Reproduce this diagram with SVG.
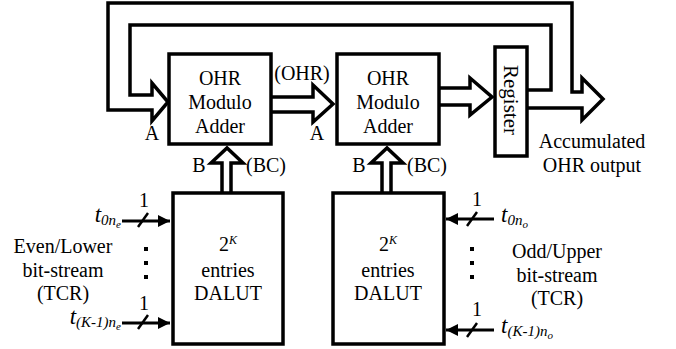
<svg xmlns="http://www.w3.org/2000/svg" width="676" height="349" viewBox="0 0 676 349">
<defs>
<marker id="ah" viewBox="0 0 10 10" refX="10" refY="5" markerWidth="4" markerHeight="4" markerUnits="strokeWidth" orient="auto">
<path d="M0,0 L10,5 L0,10 Z" fill="#000"/>
</marker>
</defs>
<rect width="676" height="349" fill="#fff"/>
<g id="connectors" fill="none" stroke="#000" stroke-width="3.5" stroke-linejoin="miter">
<path d="M527,90 H551 V25 H130 V95 H152 V83 L168,102 L152,121 V110 H108 V3 H572 V92 H582 V78 L603,99 L582,120 V108 H527"/>
<path d="M271,97 H313 V85 L333,104 L313,122 V112 H271"/>
<path d="M439,88 H470 V78 L492,97 L470,115 V105 H439"/>
<path d="M222,193 V163 H211 L227,148 L243,163 H231 V193"/>
<path d="M382,193 V163 H371 L387,148 L403,163 H391 V193"/>
<g stroke-width="3">
<line x1="122" y1="221" x2="170" y2="221" marker-end="url(#ah)"/>
<line x1="122" y1="323" x2="170" y2="323" marker-end="url(#ah)"/>
<line x1="494" y1="219" x2="446" y2="219" marker-end="url(#ah)"/>
<line x1="494" y1="330" x2="446" y2="330" marker-end="url(#ah)"/>
</g>
<g stroke-width="2.5">
<line x1="138" y1="227" x2="148" y2="213"/>
<line x1="138" y1="329" x2="148" y2="315"/>
<line x1="467" y1="226" x2="477" y2="212"/>
<line x1="467" y1="337" x2="477" y2="323"/>
</g>
</g>
<g id="adder1">
<rect x="169" y="54" width="102" height="90" fill="#fff" stroke="#000" stroke-width="3.5"/>
<g font-family="Liberation Serif" font-size="20" text-anchor="middle">
<text x="220" y="85">OHR</text>
<text x="220" y="109">Modulo</text>
<text x="220" y="133">Adder</text>
</g>
</g>
<g id="adder2">
<rect x="337" y="54" width="102" height="90" fill="#fff" stroke="#000" stroke-width="3.5"/>
<g font-family="Liberation Serif" font-size="20" text-anchor="middle">
<text x="388" y="85">OHR</text>
<text x="388" y="109">Modulo</text>
<text x="388" y="133">Adder</text>
</g>
</g>
<g id="register">
<rect x="495" y="47" width="32" height="109" fill="#fff" stroke="#000" stroke-width="3.5"/>
<text font-family="Liberation Serif" font-size="21" text-anchor="middle" transform="translate(504,100) rotate(90)">Register</text>
</g>
<g id="dalut1">
<rect x="173" y="193" width="110" height="151" fill="#fff" stroke="#000" stroke-width="3.5"/>
<g font-family="Liberation Serif" font-size="20" text-anchor="middle">
<text x="228" y="251">2<tspan font-style="italic" font-size="12" dy="-7">K</tspan></text>
<text x="228" y="277">entries</text>
<text x="228" y="300">DALUT</text>
</g>
</g>
<g id="dalut2">
<rect x="333" y="193" width="111" height="151" fill="#fff" stroke="#000" stroke-width="3.5"/>
<g font-family="Liberation Serif" font-size="20" text-anchor="middle">
<text x="388" y="251">2<tspan font-style="italic" font-size="12" dy="-7">K</tspan></text>
<text x="388" y="277">entries</text>
<text x="388" y="300">DALUT</text>
</g>
</g>
<g id="labels" font-family="Liberation Serif" font-size="20">
<g text-anchor="middle">
<text x="302" y="80">(OHR)</text>
<text x="152" y="140">A</text>
<text x="317" y="140">A</text>
<text x="199" y="172">B</text>
<text x="266" y="172">(BC)</text>
<text x="359" y="172">B</text>
<text x="427" y="172">(BC)</text>
<text x="592" y="148">Accumulated</text>
<text x="592" y="172">OHR output</text>
<text x="63" y="253">Even/Lower</text>
<text x="63" y="277">bit-stream</text>
<text x="63" y="300">(TCR)</text>
<text x="557" y="258">Odd/Upper</text>
<text x="557" y="282">bit-stream</text>
<text x="557" y="305">(TCR)</text>
<text x="144" y="207">1</text>
<text x="144" y="310">1</text>
<text x="477" y="206">1</text>
<text x="477" y="316">1</text>
</g>
<g font-style="italic">
<text x="121" y="222" text-anchor="end"><tspan font-size="23">t</tspan><tspan font-size="15" dy="3">0n</tspan><tspan font-size="11" dy="3">e</tspan></text>
<text x="121" y="324" text-anchor="end"><tspan font-size="23">t</tspan><tspan font-size="15" dy="3">(K-1)n</tspan><tspan font-size="11" dy="3">e</tspan></text>
<text x="501" y="222"><tspan font-size="23">t</tspan><tspan font-size="15" dy="3">0n</tspan><tspan font-size="11" dy="3">o</tspan></text>
<text x="501" y="333"><tspan font-size="23">t</tspan><tspan font-size="15" dy="3">(K-1)n</tspan><tspan font-size="11" dy="3">o</tspan></text>
</g>
</g>
<g id="dots">
<rect x="144" y="247" width="4" height="4"/>
<rect x="144" y="261" width="4" height="4"/>
<rect x="144" y="275" width="4" height="4"/>
<rect x="470" y="247" width="4" height="4"/>
<rect x="470" y="261" width="4" height="4"/>
<rect x="470" y="275" width="4" height="4"/>
</g>
</svg>
